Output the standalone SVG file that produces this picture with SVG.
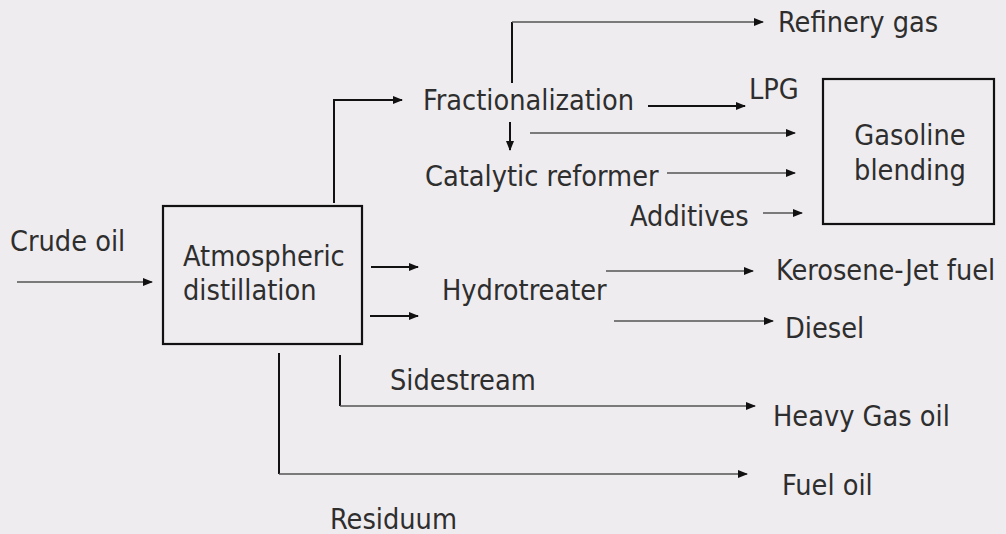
<svg xmlns="http://www.w3.org/2000/svg" width="1006" height="534" viewBox="0 0 1006 534">
<style>
text{font-family:"DejaVu Sans Condensed","DejaVu Sans",sans-serif;font-stretch:condensed;font-size:28.6px;fill:#2e2e2e}
.box{fill:none;stroke:#111;stroke-width:2.2}
.k{fill:none;stroke:#111;stroke-width:2}
.g{fill:none;stroke:#555;stroke-width:1.4}
</style>
<defs>
<marker id="ah" viewBox="0 0 10 8" refX="9" refY="4" markerWidth="10" markerHeight="8" markerUnits="userSpaceOnUse" orient="auto"><path d="M0,0L10,4L0,8z" fill="#111"/></marker>
</defs>
<rect width="1006" height="534" fill="#efecef"/>
<g id="connectors">
<path class="g" d="M17,282H152" marker-end="url(#ah)"/>
<path class="k" d="M334,203V100H402" marker-end="url(#ah)"/>
<path class="k" d="M512,83V22"/>
<path class="g" d="M512,22H763" marker-end="url(#ah)"/>
<path class="k" d="M648,106H745" marker-end="url(#ah)"/>
<path class="k" d="M510,122V150" marker-end="url(#ah)"/>
<path class="g" d="M530,133H795" marker-end="url(#ah)"/>
<path class="g" d="M667,173H795" marker-end="url(#ah)"/>
<path class="g" d="M763,213H802" marker-end="url(#ah)"/>
<path class="k" d="M371,267H418" marker-end="url(#ah)"/>
<path class="k" d="M370,316H418" marker-end="url(#ah)"/>
<path class="g" d="M606,271H753" marker-end="url(#ah)"/>
<path class="g" d="M614,321H773" marker-end="url(#ah)"/>
<path class="k" d="M340,355V406"/>
<path class="g" d="M340,406H755" marker-end="url(#ah)"/>
<path class="k" d="M279,353V474"/>
<path class="g" d="M279,474H747" marker-end="url(#ah)"/>
</g>
<g id="crude-oil"><text x="10" y="251">Crude oil</text></g>
<g id="atmospheric-distillation">
<rect class="box" x="163" y="206" width="199" height="138"/>
<text x="183" y="266">Atmospheric</text>
<text x="183" y="300">distillation</text>
</g>
<g id="fractionalization"><text x="423" y="110">Fractionalization</text></g>
<g id="refinery-gas"><text x="778" y="32">Refinery gas</text></g>
<g id="lpg"><text x="749" y="99">LPG</text></g>
<g id="catalytic-reformer"><text x="425" y="186">Catalytic reformer</text></g>
<g id="additives"><text x="630" y="226">Additives</text></g>
<g id="gasoline-blending">
<rect class="box" x="823" y="79" width="171" height="145"/>
<text x="910" y="145" text-anchor="middle">Gasoline</text>
<text x="910" y="180" text-anchor="middle">blending</text>
</g>
<g id="hydrotreater"><text x="442" y="300">Hydrotreater</text></g>
<g id="kerosene"><text x="776" y="280">Kerosene-Jet fuel</text></g>
<g id="diesel"><text x="785" y="338">Diesel</text></g>
<g id="sidestream"><text x="390" y="390">Sidestream</text></g>
<g id="heavy-gas-oil"><text x="773" y="426">Heavy Gas oil</text></g>
<g id="fuel-oil"><text x="782" y="495">Fuel oil</text></g>
<g id="residuum"><text x="330" y="529">Residuum</text></g>
</svg>
